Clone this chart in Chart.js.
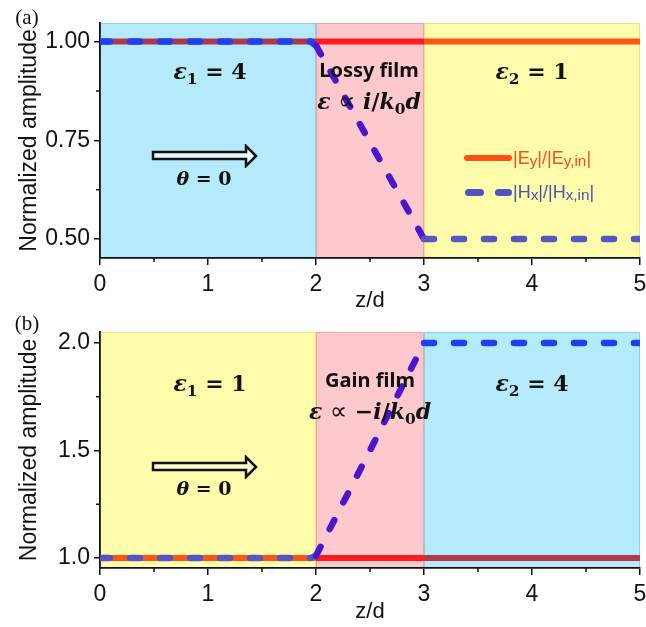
<!DOCTYPE html>
<html><head><meta charset="utf-8">
<script src="https://cdn.jsdelivr.net/npm/chart.js@4.4.0/dist/chart.umd.min.js"></script>
<style>
html,body{margin:0;padding:0;background:#fff}
body{width:646px;height:627px;position:relative;overflow:hidden;font-family:"Liberation Sans",Arial,sans-serif}
canvas{position:absolute;left:0}
.t{position:absolute;white-space:nowrap;transform:translate(-50%,-50%);line-height:1;color:#111}
.m{font-family:"DejaVu Serif",serif;font-weight:bold;font-size:22px}
.m i{font-style:italic}
.m sub{font-size:70%;vertical-align:-0.3em;line-height:0}
.p{font-family:"DejaVu Sans",sans-serif;font-weight:normal;font-size:24px}
.f{font-family:"Noto Sans",sans-serif;font-weight:bold;font-size:20px}
.lab{font-family:"Liberation Serif","Times New Roman",serif;font-size:21px}
.leg{position:absolute;font-size:18px;font-family:"Liberation Sans",Arial,sans-serif;white-space:nowrap;line-height:1;transform:translateY(-50%)}
.leg sub{font-size:85%;vertical-align:-0.12em;line-height:0}
svg{position:absolute}
</style>
</head><body>
<canvas id="ca" width="646" height="314" style="top:0;width:646px;height:314px"></canvas>
<canvas id="cb" width="646" height="311" style="top:314px;width:646px;height:311px"></canvas>

<div class="t lab" style="left:27px;top:17px">(a)</div>
<div class="t m" style="left:210px;top:71px"><i>ε</i><sub>1</sub> = 4</div>
<div class="t f" style="left:369px;top:70px">Lossy film</div>
<div class="t m" style="left:369px;top:101px"><i>ε</i> <span class="p">∝</span> <i>i</i>/<i>k</i><sub>0</sub><i>d</i></div>
<div class="t m" style="left:532px;top:71px"><i>ε</i><sub>2</sub> = 1</div>
<svg style="left:150px;top:144px" width="110" height="24"><polygon points="3,8 96,8 96,2 106,12 96,22 96,15 3,15" fill="#e6f8fd" stroke="#111" stroke-width="2.5"/></svg>
<div class="t m" style="left:204px;top:178px;font-size:19px"><i>θ</i> = 0</div>
<div style="position:absolute;left:464px;top:155px;width:48px;height:6px;border-radius:3px;background:#ff5010"></div>
<div class="leg" style="left:513px;top:158px;color:#f5501a">|E<sub>y</sub>|/|E<sub>y,in</sub>|</div>
<div style="position:absolute;left:465px;top:189px;width:19px;height:7px;border-radius:3.5px;background:#5052c0"></div>
<div style="position:absolute;left:495px;top:189px;width:17px;height:7px;border-radius:3.5px;background:#5052c0"></div>
<div class="leg" style="left:513px;top:192px;color:#4d50b5">|H<sub>x</sub>|/|H<sub>x,in</sub>|</div>

<div class="t lab" style="left:27px;top:323px">(b)</div>
<div class="t m" style="left:210px;top:383px"><i>ε</i><sub>1</sub> = 1</div>
<div class="t f" style="left:370px;top:380px">Gain film</div>
<div class="t m" style="left:370px;top:411px"><i>ε</i> <span class="p">∝</span> −<i>i</i>/<i>k</i><sub>0</sub><i>d</i></div>
<div class="t m" style="left:532px;top:383px"><i>ε</i><sub>2</sub> = 4</div>
<svg style="left:150px;top:455px" width="110" height="24"><polygon points="3,8 96,8 96,2 106,12 96,22 96,15 3,15" fill="#fdfcd2" stroke="#111" stroke-width="2.5"/></svg>
<div class="t m" style="left:204px;top:488px;font-size:19px"><i>θ</i> = 0</div>

<script>
// ---- data ----
const zE = [0, 2, 3, 5];
const eTop = [1, 1, 1, 1];
const eBottom = [1, 1, 1, 1];
const zH = [0, 1.95, 2, 2.5, 3, 4, 5];
const hTop = [1, 1, 0.99, 0.745, 0.5, 0.5, 0.5];
const hBottom = [1, 1, 1.01, 1.5, 2, 2, 2];
const regionEdges = [0, 2, 3, 5];
const xTicks = [0, 1, 2, 3, 4, 5];
const xMinorTicks = [0.5, 1.5, 2.5, 3.5, 4.5];
const yTicksTop = [0.5, 0.75, 1.0];
const yMinorTop = [0.625, 0.875];
const yTicksBottom = [1.0, 1.5, 2.0];
const yMinorBottom = [1.25, 1.75];
const seriesNames = ['|Ey|/|Ey,in|', '|Hx|/|Hx,in|'];

// ---- styles ----
const bgCol = {blue: '#b4eaf9', pink: '#fdc9cc', yellow: '#fefbab'};
const bdCol = {blue: '#88d0ec', pink: '#f3a3a6', yellow: '#eee480'};
const eCol = {blue: '#b0384a', pink: '#ff1c1c', yellow: '#ff5412'};
const hCol = {blue: '#1f40f0', pink: '#4a16d0', yellow: '#5656c2'};
const FONT = '"Liberation Sans", Arial, sans-serif';

function regionIndex(x) {
  for (let i = 0; i < regionEdges.length - 1; i++) if (x <= regionEdges[i + 1]) return i;
  return regionEdges.length - 2;
}

const regionPlugin = {
  id: 'regions',
  beforeDraw(chart) {
    const {ctx, chartArea: a, scales: {x}} = chart;
    const regs = chart.options.plugins.regions.list;
    ctx.save();
    for (let i = 0; i < regs.length; i++) {
      const x0 = x.getPixelForValue(regionEdges[i]);
      const x1 = x.getPixelForValue(regionEdges[i + 1]);
      ctx.fillStyle = bgCol[regs[i]];
      ctx.fillRect(x0, a.top, x1 - x0, a.bottom - a.top);
    }
    for (let i = 0; i < regs.length; i++) {
      const x0 = x.getPixelForValue(regionEdges[i]);
      const x1 = x.getPixelForValue(regionEdges[i + 1]);
      ctx.strokeStyle = bdCol[regs[i]];
      ctx.lineWidth = 1;
      ctx.strokeRect(x0 + 0.5, a.top + 0.5, x1 - x0 - 1, a.bottom - a.top - 1);
    }
    ctx.restore();
  },
  afterDraw(chart) {
    const {ctx, chartArea: a, scales: {x, y}} = chart;
    const yMinor = chart.options.plugins.regions.yMinor;
    ctx.save();
    ctx.strokeStyle = '#111';
    ctx.lineWidth = 1.5;
    ctx.beginPath();
    xMinorTicks.forEach(v => {
      const px = x.getPixelForValue(v);
      ctx.moveTo(px, a.bottom);
      ctx.lineTo(px, a.bottom + 4);
    });
    yMinor.forEach(v => {
      const py = y.getPixelForValue(v);
      ctx.moveTo(a.left, py);
      ctx.lineTo(a.left - 4, py);
    });
    ctx.stroke();
    ctx.restore();
  }
};

function makePanel(id, eVals, hVals, yMin, yMax, yTicks, yMinor, dec, regs, padTop, xH) {
  const segColor = (map) => (c) => map[regs[regionIndex((c.p0.parsed.x + c.p1.parsed.x) / 2)]];
  return new Chart(document.getElementById(id), {
    type: 'line',
    data: {
      datasets: [
        {
          label: seriesNames[1],
          data: zH.map((z, i) => ({x: z, y: hVals[i]})),
          borderColor: hCol.blue,
          borderWidth: 6.5,
          borderDash: [10, 20],
          borderCapStyle: 'round',
          pointRadius: 0,
          tension: 0,
          order: 0,
          segment: {borderColor: segColor(hCol)}
        },
        {
          label: seriesNames[0],
          data: zE.map((z, i) => ({x: z, y: eVals[i]})),
          borderColor: eCol.blue,
          borderWidth: 6,
          pointRadius: 0,
          tension: 0,
          order: 1,
          segment: {borderColor: segColor(eCol)}
        }
      ]
    },
    options: {
      responsive: false,
      animation: false,
      devicePixelRatio: 1,
      layout: {padding: {top: padTop, right: 6, left: 0, bottom: 0}},
      plugins: {
        legend: {display: false},
        tooltip: {enabled: false},
        regions: {list: regs, yMinor: yMinor}
      },
      scales: {
        x: {
          type: 'linear',
          min: 0, max: 5,
          afterBuildTicks: (s) => { s.ticks = xTicks.map(v => ({value: v})); },
          afterFit: (s) => { s.height = xH; s.paddingLeft = 0; s.paddingRight = 0; },
          grid: {display: true, drawOnChartArea: false, drawTicks: true, tickLength: 7, color: '#111', lineWidth: 1.5},
          border: {display: true, color: '#111', width: 1.8},
          ticks: {autoSkip: false, maxRotation: 0, padding: 6, color: '#111',
                  font: {family: FONT, size: 23},
                  callback: (v) => String(v)},
          title: {display: true, text: 'z/d', color: '#111', padding: {top: 0, bottom: 0},
                  font: {family: FONT, size: 22}}
        },
        y: {
          type: 'linear',
          min: yMin, max: yMax,
          afterBuildTicks: (s) => { s.ticks = yTicks.map(v => ({value: v})); },
          afterFit: (s) => { s.width = 100; s.paddingTop = 0; s.paddingBottom = 0; },
          grid: {display: true, drawOnChartArea: false, drawTicks: true, tickLength: 6, color: '#111', lineWidth: 1.5},
          border: {display: true, color: '#111', width: 1.8},
          ticks: {autoSkip: false, padding: 4, color: '#111',
                  font: {family: FONT, size: 23},
                  callback: (v) => Number(v).toFixed(dec)},
          title: {display: true, text: 'Normalized amplitude', color: '#111', padding: {top: 16, bottom: 0},
                  font: {family: FONT, size: 23}}
        }
      }
    },
    plugins: [regionPlugin]
  });
}

makePanel('ca', eTop, hTop, 0.452, 1.047, yTicksTop, yMinorTop, 2, ['blue', 'pink', 'yellow'], 23, 56);
makePanel('cb', eBottom, hBottom, 0.953, 2.051, yTicksBottom, yMinorBottom, 1, ['yellow', 'pink', 'blue'], 18, 57);
</script>
</body></html>
